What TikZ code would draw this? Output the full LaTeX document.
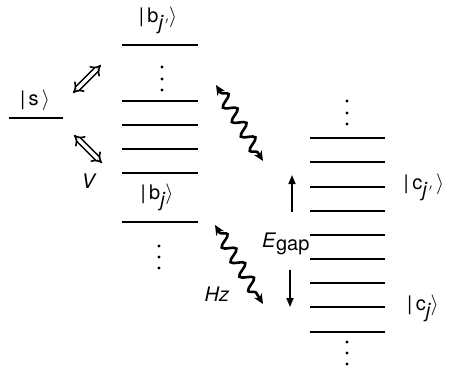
\documentclass[tikz,border=0pt]{standalone}
\usepackage{fontspec}
\setmainfont{TeX Gyre Heros}
\usetikzlibrary{arrows.meta,decorations.pathmorphing}
\begin{document}
\begin{tikzpicture}[x=1pt,y=-1pt,
  lvl/.style={line width=2.8pt},
  lab/.style={font=\fontsize{20}{23}\selectfont, inner sep=0pt},
  dotc/.style={fill=black, draw=none},
  dbl/.style={double, double distance=3.2pt, line width=1.6pt, {Implies}-{Implies}},
  wav/.style={line width=2.6pt, {Stealth[length=10pt,width=9pt]}-{Stealth[length=10pt,width=9pt]},
     decorate, decoration={snake, amplitude=6pt, segment length=17pt, pre length=9pt, post length=9pt}},
  gaparrow/.style={line width=1.6pt, -{Triangle[length=9pt,width=7pt]}}
]
\useasboundingbox (0,0) rectangle (455,368);
% |s> level
\draw[lvl] (9,118) -- (63,118);
\node[lab] (s) at (35,100) {|\,s\,$\rangle$};
% b levels
\foreach \y in {45,101,125,149,173,222} \draw[lvl] (122,\y) -- (198,\y);
\node[lab] (bjp) at (158,20) {|\,b$_{\textit{j}\,'}\rangle$};
\node[lab] (bj) at (157,197) {|\,b$_{\textit{j}}\rangle$};
\foreach \y in {67,79,90} \fill[dotc] (162,\y) circle (1.6);
\foreach \y in {246,257,268} \fill[dotc] (159,\y) circle (1.6);
% c levels
\foreach \y in {138,162,187,211,235,259,283,307,332} \draw[lvl] (310,\y) -- (385,\y);
\foreach \y in {101,113,124} \fill[dotc] (347,\y) circle (1.6);
\foreach \y in {342,353,364} \fill[dotc] (347,\y) circle (1.6);
\node[lab] (cjp) at (424,187) {|\,c$_{\textit{j}\,'}$\,$\rangle$};
\node[lab] (cj) at (423,308) {|\,c$_{\textit{j}}\rangle$};
% V couplings
\coordinate (v1a) at (73,93); \coordinate (v1b) at (101,65);
\coordinate (v2a) at (74,135); \coordinate (v2b) at (102,163);
\draw[dbl] (v1a) -- (v1b);
\draw[dbl] (v2a) -- (v2b);
\node[lab] (V) at (89,181) {\textit{V}};
% wavy couplings
\coordinate (w1a) at (216,85); \coordinate (w1b) at (263,161);
\coordinate (w2a) at (215,225); \coordinate (w2b) at (263,304);
\draw[wav] (w1a) -- (w1b);
\draw[wav] (w2a) -- (w2b);
\node[lab] (Hz) at (217,294) {\textit{Hz}};
% gap
\node[lab] (Eg) at (286,244) {\textit{E}$_{\textrm{gap}}$};
\coordinate (u1) at (292,212); \coordinate (u2) at (292,175);
\coordinate (d1) at (290,270); \coordinate (d2) at (290,307);
\draw[gaparrow] (u1) -- (u2);
\draw[gaparrow] (d1) -- (d2);
\end{tikzpicture}
\end{document}
